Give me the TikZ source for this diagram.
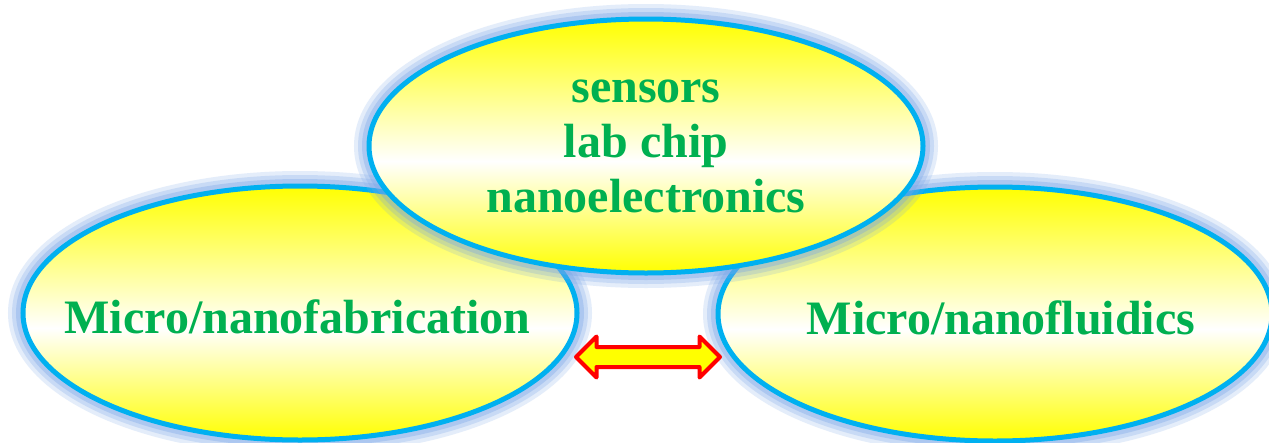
\documentclass[tikz,border=0pt]{standalone}
\usepackage{fontspec}
\setmainfont{Liberation Serif}
\usetikzlibrary{shapes.geometric,shapes.arrows}
\definecolor{txtgreen}{RGB}{0,176,80}
\definecolor{rimblue}{RGB}{0,176,240}
\definecolor{glowblue}{RGB}{120,165,232}
\definecolor{arrred}{RGB}{255,0,0}
\definecolor{arryellow}{RGB}{255,255,0}
\pgfdeclareverticalshading{ywy}{100bp}{color(0bp)=(yellow); color(25bp)=(yellow); color(47bp)=(white); color(75bp)=(yellow); color(100bp)=(yellow)}
\newcommand{\ovallabel}[2]{\raisebox{0pt}[40pt][0pt]{\kern#1\makebox[0pt]{#2}\kern-#1}}
\tikzset{
  bubble/.style={ellipse, minimum width=554pt, minimum height=254pt, inner sep=0pt,
    shade, shading=ywy, draw=rimblue, line width=5pt,
    text=txtgreen, font=\fontsize{48}{55}\selectfont\bfseries, align=center,
    preaction={draw=glowblue, line width=30pt, opacity=0.2},
    preaction={draw=glowblue, line width=22pt, opacity=0.25},
    preaction={draw=glowblue, line width=14pt, opacity=0.35}},
  blockarrow/.style={double arrow, draw=arrred, fill=arryellow, line width=4pt,
    line join=round, inner sep=8pt, minimum height=144pt,
    double arrow head extend=10.5pt}
}
\begin{document}
\begin{tikzpicture}[x=1pt,y=1pt]
\useasboundingbox (0,0) rectangle (1269,-442);
\fill[white] (0,0) rectangle (1269,-442);
\node[bubble] (fab) at (300,-313) {\ovallabel{-2.5pt}{Micro/nanofabrication}};
\node[bubble] (flu) at (995,-314) {\ovallabel{6pt}{Micro/nanofluidics}};
\node[bubble] (app) at (646,-146) {sensors\\lab chip\\nanoelectronics};
\node[blockarrow] (arr) at (648,-357) {};
\end{tikzpicture}
\end{document}
